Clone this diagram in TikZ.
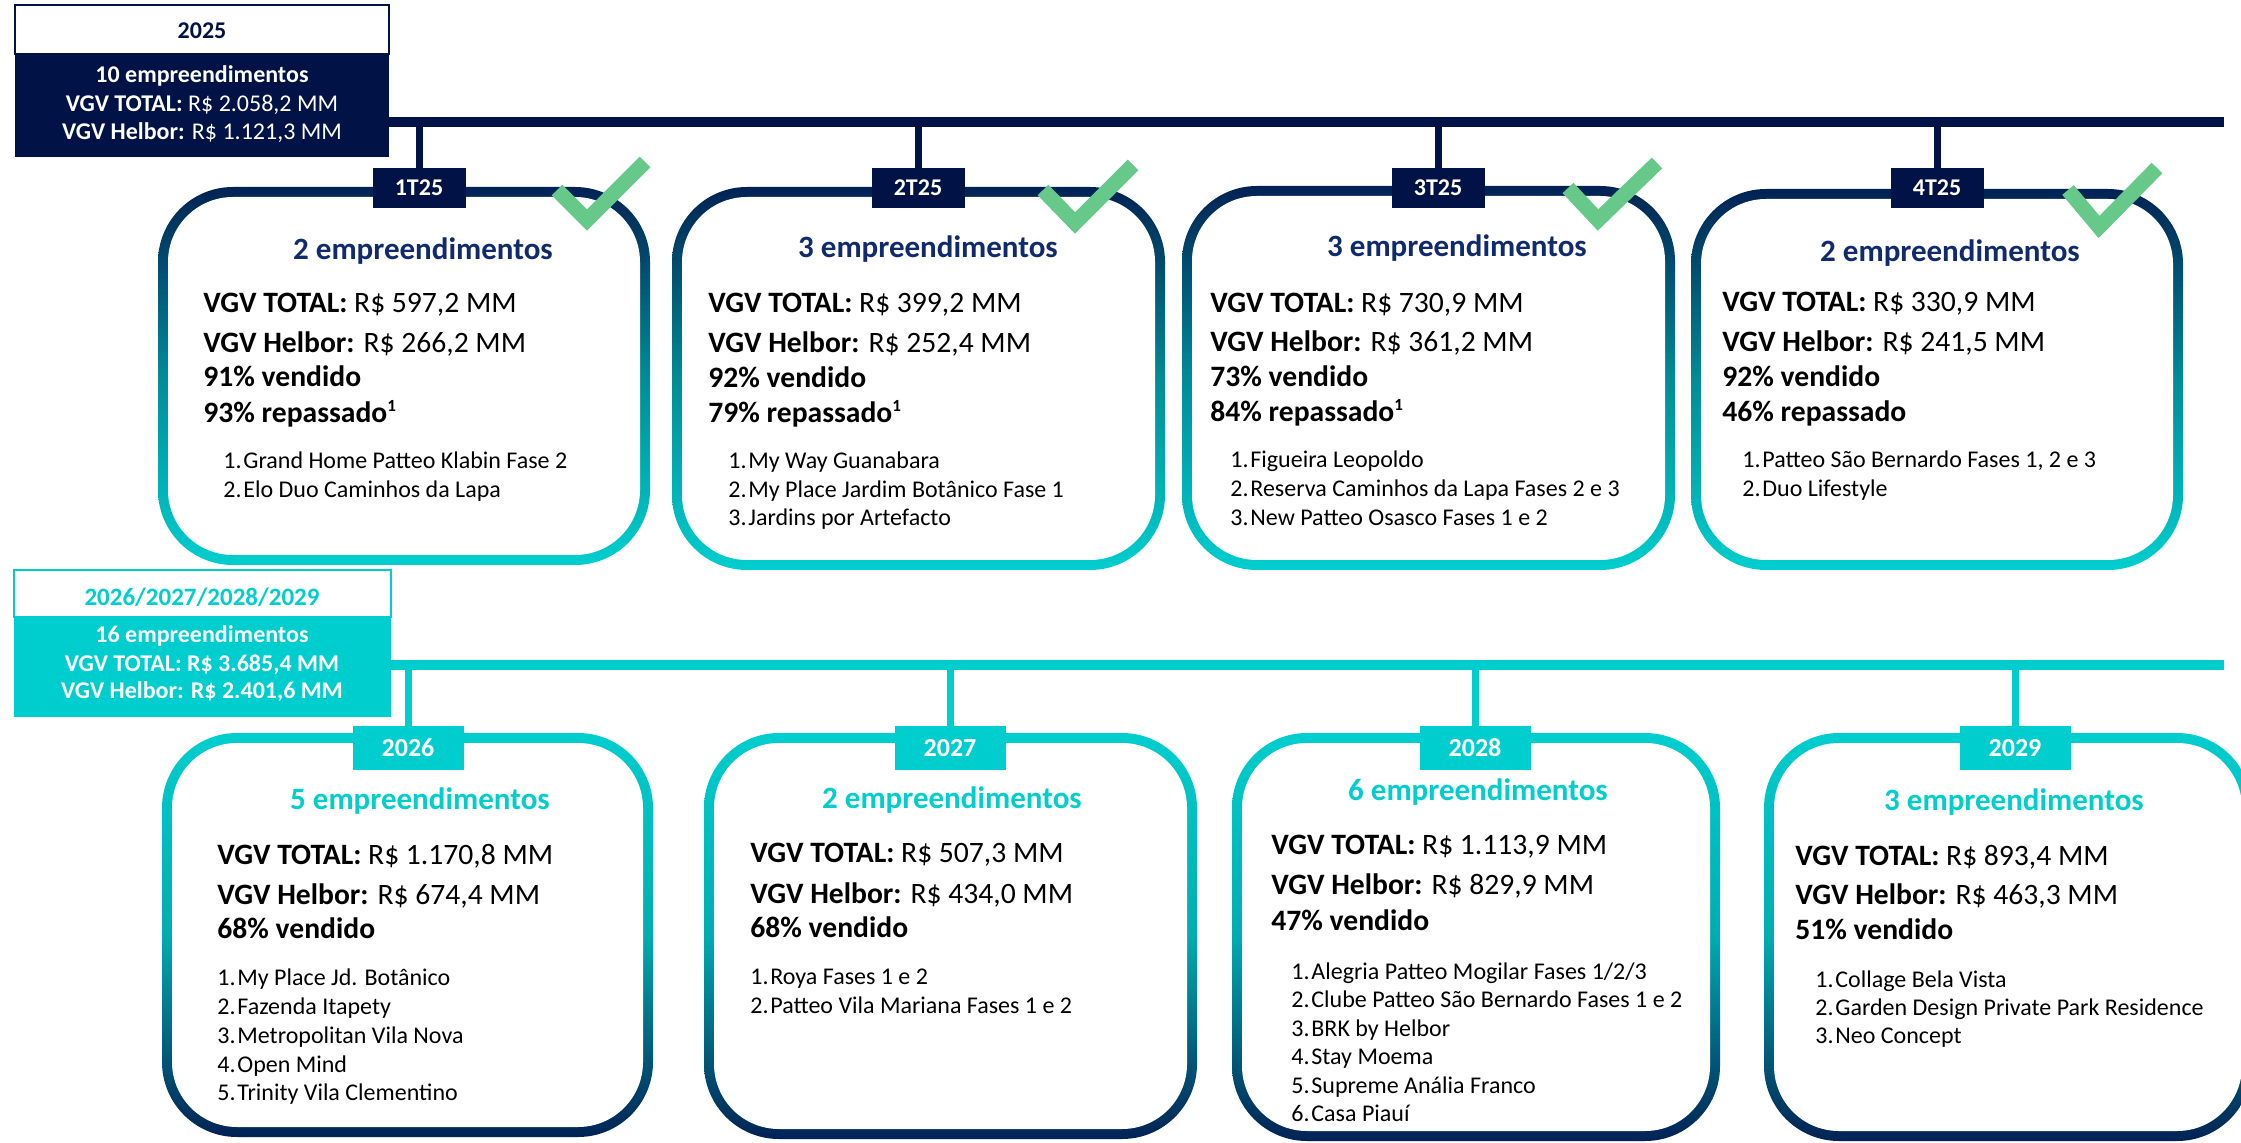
\documentclass[tikz,border=0pt]{standalone}
\usepackage{fontspec}
\setmainfont{Carlito}
\definecolor{navy}{RGB}{0,18,70}
\definecolor{ttlblue}{RGB}{16,42,110}
\definecolor{tealc}{RGB}{0,206,206}
\definecolor{gnavy}{RGB}{0,34,84}
\definecolor{gmidA}{RGB}{0,140,150}
\definecolor{gmidB}{RGB}{0,172,176}
\definecolor{chk}{RGB}{102,201,138}
\newcommand{\litem}[2]{\makebox[10pt][l]{#1.}#2}
\newcommand{\supone}{\raisebox{5.5pt}{\fontsize{8.5}{9}\selectfont 1}}
\newcommand{\gradbox}[6]{%
  \path[#6,rounded corners=37.5pt] (#2,#3) rectangle (#4,#5);
  \fill[white,rounded corners=32.5pt] ({#2+10},{#3+10}) rectangle ({#4-10},{#5-10});
  \coordinate (#1) at ({(#2+#4)/2},#3);}
\tikzset{
  gradA/.style={top color=gnavy, bottom color=tealc, middle color=gmidA},
  gradB/.style={top color=tealc, bottom color=gnavy, middle color=gmidB},
  ttlA/.style={anchor=base, inner sep=0, font=\fontsize{15.5}{18}\selectfont\bfseries, text=ttlblue},
  ttlB/.style={anchor=base, inner sep=0, font=\fontsize{15.5}{18}\selectfont\bfseries, text=tealc},
  bodyln/.style={anchor=base west, inner sep=0, font=\fontsize{14.8}{17}\selectfont},
  boldln/.style={anchor=base west, inner sep=0, font=\fontsize{14.8}{17}\selectfont\bfseries},
  listln/.style={anchor=base west, inner sep=0, font=\fontsize{12}{14}\selectfont},
  lblA/.style={fill=navy, text=white, inner sep=0, minimum width=46.5pt, minimum height=20pt, font=\fontsize{12}{14}\selectfont\bfseries},
  lblB/.style={fill=tealc, text=white, inner sep=0, minimum width=55.5pt, minimum height=22pt, font=\fontsize{13}{15}\selectfont\bfseries},
  hdrtxt/.style={anchor=base, inner sep=0, font=\fontsize{12}{14}\selectfont},
  dropA/.style={draw=navy, line width=3.5pt},
  dropB/.style={draw=tealc, line width=3.5pt},
  chkmark/.style={draw=chk, line width=7.5pt},
}
\begin{document}
\begin{tikzpicture}[x=0.5pt,y=-0.5pt]
\useasboundingbox (0,0) rectangle (2241,1143);
\clip (0,0) rectangle (2241,1143);
\fill[white] (0,0) rectangle (2241,1143);

% ---------------- top timeline ----------------
\coordinate (tlA) at (389,122);
\coordinate (tlAend) at (2224,122);
\draw[navy, line width=5pt] (tlA) -- (tlAend);

% header 2025
\fill[navy] (15,54) rectangle (389,157);
\draw[navy, line width=0.75pt, fill=white] (15,5) rectangle (389,54);
\node[hdrtxt, font=\fontsize{12}{14}\selectfont\bfseries, text=navy] (h1t) at (202,39) {2025};
\node[hdrtxt, text=white] (h1a) at (202,83) {\textbf{10 empreendimentos}};
\node[hdrtxt, text=white] (h1b) at (202,112) {\textbf{VGV TOTAL:} R\$ 2.058,2 MM};
\node[hdrtxt, text=white] (h1c) at (202,140) {\textbf{VGV Helbor:} R\$ 1.121,3 MM};

% boxes row 1
\gradbox{b1}{158}{187}{650}{565}{gradA}
\gradbox{b2}{672}{187}{1165}{570}{gradA}
\gradbox{b3}{1182}{186}{1675}{570}{gradA}
\gradbox{b4}{1691}{189}{2183}{570}{gradA}

% labels row 1
\node[lblA] (q1) at (419,188) {1T25};
\node[lblA] (q2) at (918,188) {2T25};
\node[lblA] (q3) at (1438,188) {3T25};
\node[lblA] (q4) at (1937,188) {4T25};
\draw[dropA] (q1.north |- tlA) -- (q1.north);
\draw[dropA] (q2.north |- tlA) -- (q2.north);
\draw[dropA] (q3.north |- tlA) -- (q3.north);
\draw[dropA] (q4.north |- tlA) -- (q4.north);

% check marks
\draw[chkmark] (557,190) -- (587,220) -- (645,162);
\draw[chkmark] (1043,190) -- (1075,223) -- (1133,165);
\draw[chkmark] (1568,188) -- (1598,220) -- (1657,163);
\draw[chkmark] (2068,190) -- (2099,227) -- (2157,168);

% box 1
\node[ttlA] (t1) at (423,260) {2 empreendimentos};
\node[bodyln] (v1) at (203,313) {\textbf{VGV TOTAL:} R\$ 597,2 MM};
\node[bodyln] (w1) at (203,353) {\textbf{VGV Helbor:} R\$ 266,2 MM};
\node[boldln] (s1) at (203,387) {91\% vendido};
\node[boldln] (r1) at (203,423) {93\% repassado\supone};
\node[listln] (l1a) at (223,469) {\litem{1}{Grand Home Patteo Klabin Fase 2}};
\node[listln] (l1b) at (223,498) {\litem{2}{Elo Duo Caminhos da Lapa}};

% box 2
\node[ttlA] (t2) at (928,258) {3 empreendimentos};
\node[bodyln] (v2) at (708,313) {\textbf{VGV TOTAL:} R\$ 399,2 MM};
\node[bodyln] (w2) at (708,353) {\textbf{VGV Helbor:} R\$ 252,4 MM};
\node[boldln] (s2) at (708,388) {92\% vendido};
\node[boldln] (r2) at (708,423) {79\% repassado\supone};
\node[listln] (l2a) at (728,469) {\litem{1}{My Way Guanabara}};
\node[listln] (l2b) at (728,498) {\litem{2}{My Place Jardim Botânico Fase 1}};
\node[listln] (l2c) at (728,526) {\litem{3}{Jardins por Artefacto}};

% box 3
\node[ttlA] (t3) at (1457,257) {3 empreendimentos};
\node[bodyln] (v3) at (1210,313) {\textbf{VGV TOTAL:} R\$ 730,9 MM};
\node[bodyln] (w3) at (1210,352) {\textbf{VGV Helbor:} R\$ 361,2 MM};
\node[boldln] (s3) at (1210,387) {73\% vendido};
\node[boldln] (r3) at (1210,422) {84\% repassado\supone};
\node[listln] (l3a) at (1230,468) {\litem{1}{Figueira Leopoldo}};
\node[listln] (l3b) at (1230,497) {\litem{2}{Reserva Caminhos da Lapa Fases 2 e 3}};
\node[listln] (l3c) at (1230,526) {\litem{3}{New Patteo Osasco Fases 1 e 2}};

% box 4
\node[ttlA] (t4) at (1950,262) {2 empreendimentos};
\node[bodyln] (v4) at (1722,312) {\textbf{VGV TOTAL:} R\$ 330,9 MM};
\node[bodyln] (w4) at (1722,352) {\textbf{VGV Helbor:} R\$ 241,5 MM};
\node[boldln] (s4) at (1722,387) {92\% vendido};
\node[boldln] (r4) at (1722,422) {46\% repassado};
\node[listln] (l4a) at (1742,468) {\litem{1}{Patteo São Bernardo Fases 1, 2 e 3}};
\node[listln] (l4b) at (1742,497) {\litem{2}{Duo Lifestyle}};

% ---------------- bottom timeline ----------------
\coordinate (tlB) at (391,665);
\coordinate (tlBend) at (2224,665);
\draw[tealc, line width=5pt] (tlB) -- (tlBend);

% header 2026-2029
\fill[tealc] (14,617) rectangle (391,717);
\draw[tealc, line width=0.75pt, fill=white] (14,570) rectangle (391,617);
\node[hdrtxt, font=\fontsize{12.5}{14}\selectfont\bfseries, text=tealc] (h2t) at (202,605) {2026/2027/2028/2029};
\node[hdrtxt, font=\fontsize{12}{14}\selectfont\bfseries, text=white] (h2a) at (202,642) {16 empreendimentos};
\node[hdrtxt, font=\fontsize{12}{14}\selectfont\bfseries, text=white] (h2b) at (202,671) {VGV TOTAL: R\$ 3.685,4 MM};
\node[hdrtxt, font=\fontsize{12}{14}\selectfont\bfseries, text=white] (h2c) at (202,698) {VGV Helbor: R\$ 2.401,6 MM};

% boxes row 2
\gradbox{c1}{162}{733}{653}{1137}{gradB}
\gradbox{c2}{704}{733}{1197}{1139}{gradB}
\gradbox{c3}{1232}{733}{1720}{1141}{gradB}
\gradbox{c4}{1764}{733}{2252}{1141}{gradB}

% labels row 2
\node[lblB] (y1) at (408,748) {2026};
\node[lblB] (y2) at (950,748) {2027};
\node[lblB] (y3) at (1475,748) {2028};
\node[lblB] (y4) at (2015,748) {2029};
\draw[dropB] (y1.north |- tlB) -- (y1.north);
\draw[dropB] (y2.north |- tlB) -- (y2.north);
\draw[dropB] (y3.north |- tlB) -- (y3.north);
\draw[dropB] (y4.north |- tlB) -- (y4.north);

% 2026
\node[ttlB] (u1) at (420,809) {5 empreendimentos};
\node[bodyln] (p1) at (217,864) {\textbf{VGV TOTAL:} R\$ 1.170,8 MM};
\node[bodyln] (k1) at (217,904) {\textbf{VGV Helbor:} R\$ 674,4 MM};
\node[boldln] (z1) at (217,938) {68\% vendido};
\node[listln] (m1a) at (217,985) {\litem{1}{My Place Jd. Botânico}};
\node[listln] (m1b) at (217,1014) {\litem{2}{Fazenda Itapety}};
\node[listln] (m1c) at (217,1043) {\litem{3}{Metropolitan Vila Nova}};
\node[listln] (m1d) at (217,1072) {\litem{4}{Open Mind}};
\node[listln] (m1e) at (217,1100) {\litem{5}{Trinity Vila Clementino}};

% 2027
\node[ttlB] (u2) at (952,808) {2 empreendimentos};
\node[bodyln] (p2) at (750,862) {\textbf{VGV TOTAL:} R\$ 507,3 MM};
\node[bodyln] (k2) at (750,903) {\textbf{VGV Helbor:} R\$ 434,0 MM};
\node[boldln] (z2) at (750,937) {68\% vendido};
\node[listln] (m2a) at (750,984) {\litem{1}{Roya Fases 1 e 2}};
\node[listln] (m2b) at (750,1013) {\litem{2}{Patteo Vila Mariana Fases 1 e 2}};

% 2028
\node[ttlB] (u3) at (1478,800) {6 empreendimentos};
\node[bodyln] (p3) at (1271,854) {\textbf{VGV TOTAL:} R\$ 1.113,9 MM};
\node[bodyln] (k3) at (1271,894) {\textbf{VGV Helbor:} R\$ 829,9 MM};
\node[boldln] (z3) at (1271,930) {47\% vendido};
\node[listln] (m3a) at (1291,979) {\litem{1}{Alegria Patteo Mogilar Fases 1/2/3}};
\node[listln] (m3b) at (1291,1007.5) {\litem{2}{Clube Patteo São Bernardo Fases 1 e 2}};
\node[listln] (m3c) at (1291,1036) {\litem{3}{BRK by Helbor}};
\node[listln] (m3d) at (1291,1064.5) {\litem{4}{Stay Moema}};
\node[listln] (m3e) at (1291,1093) {\litem{5}{Supreme Anália Franco}};
\node[listln] (m3f) at (1291,1121.5) {\litem{6}{Casa Piauí}};

% 2029
\node[ttlB] (u4) at (2014,810) {3 empreendimentos};
\node[bodyln] (p4) at (1795,865) {\textbf{VGV TOTAL:} R\$ 893,4 MM};
\node[bodyln] (k4) at (1795,904) {\textbf{VGV Helbor:} R\$ 463,3 MM};
\node[boldln] (z4) at (1795,939) {51\% vendido};
\node[listln] (m4a) at (1815,987) {\litem{1}{Collage Bela Vista}};
\node[listln] (m4b) at (1815,1015) {\litem{2}{Garden Design Private Park Residence}};
\node[listln] (m4c) at (1815,1043) {\litem{3}{Neo Concept}};
\end{tikzpicture}
\end{document}
